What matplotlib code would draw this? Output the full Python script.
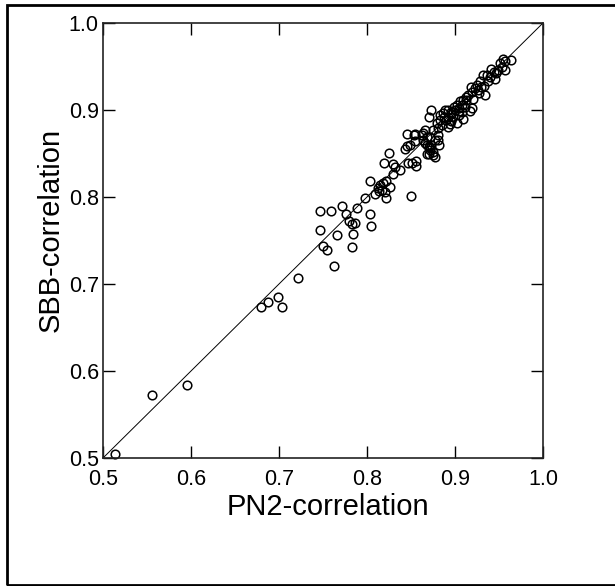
import matplotlib
matplotlib.use("Agg")
import matplotlib.pyplot as plt
import matplotlib.patches as patches

plt.rcParams['font.family'] = ['Liberation Sans', 'DejaVu Sans']

# PN2-correlation (x) vs SBB-correlation (y)
pn2 = [
    0.514, 0.556, 0.596, 0.680, 0.687, 0.699, 0.703, 0.722, 0.750, 0.755,
    0.783, 0.762, 0.747, 0.759, 0.747, 0.772, 0.776, 0.789, 0.779, 0.783,
    0.786, 0.784, 0.766, 0.803, 0.804, 0.798, 0.803, 0.809, 0.814, 0.815,
    0.818, 0.822, 0.813, 0.817, 0.820, 0.826, 0.822, 0.850, 0.825, 0.819,
    0.829, 0.832, 0.838, 0.830, 0.847, 0.851, 0.856, 0.856, 0.845, 0.855,
    0.843, 0.846, 0.849, 0.855, 0.864, 0.868, 0.868, 0.872, 0.875, 0.870,
    0.873, 0.866, 0.877,
    0.964, 0.955, 0.957, 0.951, 0.953, 0.949, 0.957, 0.947, 0.944, 0.940,
    0.945, 0.936, 0.932, 0.938, 0.928, 0.925, 0.930, 0.923, 0.926, 0.934,
    0.919, 0.915, 0.921, 0.913, 0.909, 0.906, 0.902, 0.908, 0.911, 0.917,
    0.904, 0.900, 0.896, 0.892, 0.889, 0.873, 0.870, 0.883, 0.887, 0.892,
    0.898, 0.904, 0.909, 0.890, 0.883, 0.896, 0.902, 0.879, 0.885, 0.892,
    0.881, 0.875, 0.866, 0.853, 0.862, 0.864, 0.872, 0.881, 0.868, 0.872,
    0.875, 0.877, 0.870, 0.881, 0.882, 0.908, 0.919,
    0.895, 0.899, 0.886, 0.912, 0.918, 0.927, 0.941, 0.933, 0.905, 0.894,
]
sbb = [
    0.505, 0.572, 0.584, 0.674, 0.679, 0.685, 0.674, 0.707, 0.744, 0.739,
    0.742, 0.721, 0.784, 0.784, 0.762, 0.790, 0.781, 0.787, 0.772, 0.769,
    0.770, 0.757, 0.756, 0.780, 0.767, 0.799, 0.818, 0.803, 0.807, 0.814,
    0.816, 0.818, 0.810, 0.808, 0.806, 0.812, 0.799, 0.801, 0.851, 0.839,
    0.838, 0.834, 0.831, 0.827, 0.839, 0.839, 0.841, 0.836, 0.872, 0.872,
    0.855, 0.859, 0.860, 0.864, 0.873, 0.869, 0.850, 0.854, 0.848, 0.858,
    0.860, 0.862, 0.866,
    0.958, 0.959, 0.956, 0.954, 0.950, 0.946, 0.946, 0.942, 0.944, 0.938,
    0.936, 0.940, 0.940, 0.933, 0.933, 0.929, 0.927, 0.925, 0.923, 0.917,
    0.921, 0.917, 0.913, 0.911, 0.911, 0.910, 0.906, 0.906, 0.904, 0.899,
    0.902, 0.900, 0.898, 0.900, 0.900, 0.900, 0.892, 0.894, 0.892, 0.892,
    0.892, 0.894, 0.890, 0.889, 0.889, 0.887, 0.885, 0.885, 0.883, 0.881,
    0.879, 0.877, 0.877, 0.871, 0.871, 0.866, 0.869, 0.871, 0.860, 0.856,
    0.852, 0.846, 0.850, 0.866, 0.860, 0.898, 0.902,
    0.895, 0.903, 0.897, 0.915, 0.926, 0.919, 0.947, 0.928, 0.899, 0.884,
]
tick_vals = [0.5, 0.6, 0.7, 0.8, 0.9, 1.0]
tick_labels = ['0.5', '0.6', '0.7', '0.8', '0.9', '1.0']

fig = plt.figure(figsize=(6.15, 5.86), dpi=100)

# outer frame (right edge falls outside the picture)
frame = patches.Rectangle((7 / 615, 1 / 586), 1.0, 580 / 586, transform=fig.transFigure,
                          fill=False, edgecolor='black', linewidth=2.0, clip_on=False)
fig.patches.append(frame)

ax = fig.add_axes([103 / 615, 128 / 586, 440 / 615, 435 / 586])
ax.plot([0.5, 1.0], [0.5, 1.0], color='black', linewidth=0.7)
ax.plot(pn2, sbb, linestyle='none', marker='o', markersize=6.2,
        markerfacecolor='none', markeredgecolor='black', markeredgewidth=1.1,
        clip_on=False)

ax.set_xlim(0.5, 1.0)
ax.set_ylim(0.5, 1.0)
ax.set_xticks(tick_vals)
ax.set_xticklabels(tick_labels)
ax.set_yticks(tick_vals)
ax.set_yticklabels(tick_labels)
ax.tick_params(direction='in', length=8.5, width=1.0, top=True, right=True,
               labelsize=15.5, colors='black')
ax.tick_params(axis='x', pad=8)
ax.tick_params(axis='y', pad=3)
for sp in ax.spines.values():
    sp.set_linewidth(1.2)
    sp.set_color('#222222')

ax.set_xlabel('PN2-correlation', fontsize=21)
ax.xaxis.set_label_coords((328 - 103) / 440, (458 - 507) / 435)
ax.xaxis.label.set_va('center')
ax.set_ylabel('SBB-correlation', fontsize=21)
ax.yaxis.set_label_coords((51 - 103) / 440, (458 - 230) / 435)
ax.yaxis.label.set_va('center')

plt.savefig('out.png', dpi=100)
